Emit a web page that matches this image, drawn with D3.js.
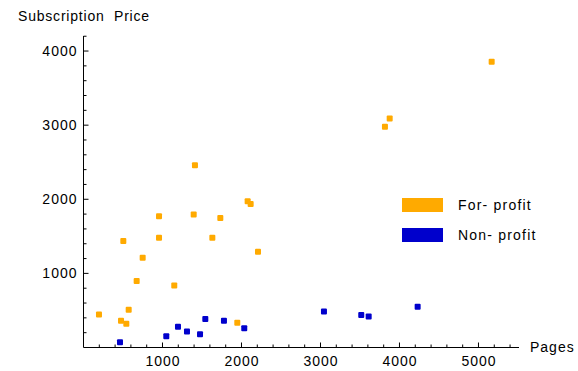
<!DOCTYPE html>
<html>
<head>
<meta charset="utf-8">
<script src="https://cdn.jsdelivr.net/npm/d3@7"></script>
<style>
  body { margin: 0; background: #fff; }
  text { font-family: "Liberation Sans", Arial, sans-serif; fill: #000; white-space: pre; }
</style>
</head>
<body>
<div id="chart"></div>
<script>
// Journal pages vs subscription price
const forProfit = [
    [1411, 2459], [2078, 1973], [2116, 1936], [956, 1770], [1395, 1793],
    [1732, 1747], [504, 1437], [956, 1482], [1631, 1482], [2209, 1293],
    [749, 1212], [673, 896], [1149, 838], [196, 446], [572, 509],
    [475, 360], [542, 320], [1947, 334], [5167, 3856], [3876, 3090],
    [3816, 2977]
];
const nonProfit = [
    [462, 72], [1048, 153], [1196, 280], [1310, 216], [1475, 180],
    [1542, 383], [1778, 360], [2035, 261], [3044, 486], [3516, 437],
    [3610, 419], [4230, 550]
];
const xTicks = [1000, 2000, 3000, 4000, 5000];
const yTicks = [1000, 2000, 3000, 4000];
const legendItems = [
    {name: "For- profit", color: "#ffaa00"},
    {name: "Non- profit", color: "#0000cc"}
];

const width = 578, height = 371;

const svg = d3.select("#chart")
    .append("svg")
    .attr("width", width)
    .attr("height", height);

// scales (origin sits at 0,0)
const x = d3.scaleLinear().domain([0, 5513]).range([83.5, 519]);
const y = d3.scaleLinear().domain([0, 4203]).range([347.5, 36]);

// x axis
const xg = svg.append("g");
xg.append("line")
    .attr("x1", x(0)).attr("x2", x(5513))
    .attr("y1", y(0)).attr("y2", y(0))
    .attr("stroke", "#000");
xg.selectAll(".minor")
    .data(d3.range(200, 5500, 200))
    .join("line")
    .attr("x1", d => x(d)).attr("x2", d => x(d))
    .attr("y1", y(0)).attr("y2", d => y(0) - (d % 1000 === 0 ? 5 : 3))
    .attr("stroke", "#000");
xg.selectAll("text")
    .data(xTicks)
    .join("text")
    .attr("x", d => x(d) + 0.5)
    .attr("y", y(0) + 18)
    .attr("text-anchor", "middle")
    .attr("font-size", 14)
    .attr("letter-spacing", 1)
    .text(d => d);

// y axis
const yg = svg.append("g");
yg.append("line")
    .attr("x1", x(0)).attr("x2", x(0))
    .attr("y1", y(0)).attr("y2", y(4203))
    .attr("stroke", "#000");
yg.selectAll(".minor")
    .data(d3.range(200, 4201, 200))
    .join("line")
    .attr("x1", x(0)).attr("x2", d => x(0) + (d % 1000 === 0 ? 5 : 3))
    .attr("y1", d => y(d)).attr("y2", d => y(d))
    .attr("stroke", "#000");
yg.selectAll("text")
    .data(yTicks)
    .join("text")
    .attr("x", x(0) - 6)
    .attr("y", d => y(d) + 5)
    .attr("text-anchor", "end")
    .attr("font-size", 14)
    .attr("letter-spacing", 1)
    .text(d => d);

// axis titles
svg.append("text")
    .attr("x", 18).attr("y", 21)
    .attr("font-size", 14)
    .attr("letter-spacing", 0.8)
    .text("Subscription  Price");
svg.append("text")
    .attr("x", 530).attr("y", 352)
    .attr("font-size", 14)
    .attr("letter-spacing", 1)
    .text("Pages");

// points
const size = 6;
svg.append("g").selectAll("rect")
    .data(forProfit)
    .join("rect")
    .attr("x", d => x(d[0]) - size / 2)
    .attr("y", d => y(d[1]) - size / 2)
    .attr("width", size).attr("height", size)
    .attr("rx", 1)
    .attr("fill", legendItems[0].color);
svg.append("g").selectAll("rect")
    .data(nonProfit)
    .join("rect")
    .attr("x", d => x(d[0]) - size / 2)
    .attr("y", d => y(d[1]) - size / 2)
    .attr("width", size).attr("height", size)
    .attr("rx", 1)
    .attr("fill", legendItems[1].color);

// legend
const lg = svg.append("g").attr("transform", "translate(402,198)");
lg.selectAll("rect")
    .data(legendItems)
    .join("rect")
    .attr("x", 0).attr("y", (d, i) => i * 30)
    .attr("width", 41).attr("height", 14)
    .attr("fill", d => d.color);
lg.selectAll("text")
    .data(legendItems)
    .join("text")
    .attr("x", 56).attr("y", (d, i) => i * 30 + 12)
    .attr("font-size", 14)
    .attr("letter-spacing", 1.2)
    .text(d => d.name);
</script>
</body>
</html>
